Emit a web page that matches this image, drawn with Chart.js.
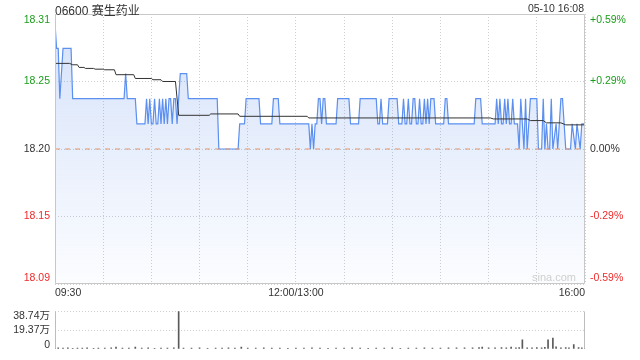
<!DOCTYPE html>
<html>
<head>
<meta charset="utf-8">
<script src="https://cdn.jsdelivr.net/npm/chart.js@4.4.1/dist/chart.umd.min.js"></script>
<style>
  html, body { margin: 0; padding: 0; background: #fff; }
  #wrap { position: relative; width: 640px; height: 360px; font-family: "Liberation Sans", "Noto Sans CJK SC", sans-serif; color: #333; }
  #main { position: absolute; left: 0; top: 0; }
  #vol { position: absolute; left: 0; top: 300px; }
  .txt { position: absolute; white-space: nowrap; }
</style>
</head>
<body>
<div id="wrap">
  <canvas id="main" width="640" height="300"></canvas>
  <canvas id="vol" width="640" height="60"></canvas>
  <div class="txt" style="left:55px; top:1px; font-size:12px;">06600 赛生药业</div>
  <div class="txt" style="right:56px; top:2px; font-size:10.5px;">05-10 16:08</div>
  <div class="txt" style="left:532px; top:271px; font-size:11px; color:#cfcfcf;">sina.com</div>
</div>
<script>
// reference price and axis labels
const prevClose = 18.20;
const pctRange = 0.0059;
const priceLabels = ['18.09', '18.15', '18.20', '18.25', '18.31'];
const pctLabels = ['-0.59%', '-0.29%', '0.00%', '+0.29%', '+0.59%'];
const timeTickMin = [0, 150, 330];
const timeTickLabels = ['09:30', '12:00/13:00', '16:00'];

// price line (minute index from 09:30, price)
const priceMin = [
  0, 1, 2, 3, 5, 10, 11, 43, 44, 45,
  50, 51, 56, 57, 58, 59, 60, 61, 62, 63,
  64, 65, 66, 67, 68, 69, 70, 71, 72, 73,
  74, 75, 76, 78, 82, 83, 101, 102, 114, 115,
  118, 119, 127, 128, 135, 136, 139, 140, 158, 159,
  160, 161, 162, 163, 164, 165, 166, 167, 168, 169,
  175, 176, 183, 184, 189, 190, 200, 201, 202, 203,
  204, 207, 208, 213, 214, 216, 217, 218, 219, 220,
  221, 222, 223, 224, 225, 226, 227, 228, 229, 230,
  231, 232, 233, 234, 236, 237, 242, 243, 244, 245,
  261, 262, 265, 266, 274, 275, 276, 277, 278, 279,
  280, 281, 282, 283, 284, 285, 286, 288, 289, 290,
  292, 293, 294, 296, 300, 301, 303, 304, 305, 306,
  307, 308, 309, 310, 312, 313, 315, 316, 318, 321,
  322, 324, 325, 327, 328, 330
];
const priceVal = [
  18.30, 18.28, 18.28, 18.24, 18.28, 18.28, 18.24, 18.24, 18.26, 18.24,
  18.24, 18.22, 18.22, 18.24, 18.22, 18.24, 18.22, 18.22, 18.24, 18.22,
  18.22, 18.24, 18.22, 18.24, 18.22, 18.24, 18.22, 18.24, 18.24, 18.22,
  18.24, 18.24, 18.22, 18.26, 18.26, 18.24, 18.24, 18.20, 18.20, 18.22,
  18.22, 18.24, 18.24, 18.22, 18.22, 18.24, 18.24, 18.22, 18.22, 18.20,
  18.22, 18.20, 18.22, 18.22, 18.24, 18.24, 18.22, 18.24, 18.24, 18.22,
  18.22, 18.24, 18.24, 18.22, 18.22, 18.24, 18.24, 18.22, 18.22, 18.24,
  18.22, 18.22, 18.24, 18.24, 18.22, 18.22, 18.24, 18.22, 18.22, 18.24,
  18.22, 18.22, 18.24, 18.24, 18.22, 18.22, 18.24, 18.22, 18.22, 18.24,
  18.22, 18.24, 18.22, 18.24, 18.24, 18.22, 18.22, 18.24, 18.24, 18.22,
  18.22, 18.24, 18.24, 18.22, 18.22, 18.24, 18.22, 18.24, 18.22, 18.22,
  18.24, 18.22, 18.24, 18.22, 18.22, 18.24, 18.22, 18.22, 18.20, 18.24,
  18.20, 18.24, 18.20, 18.24, 18.24, 18.20, 18.20, 18.24, 18.20, 18.22,
  18.20, 18.20, 18.24, 18.20, 18.22, 18.20, 18.24, 18.24, 18.20, 18.20,
  18.22, 18.20, 18.22, 18.20, 18.22, 18.22
];

// average price line
const avgMin = [
  0, 9, 11, 14, 15, 18, 19, 24, 25, 30,
  31, 37, 38, 49, 50, 60, 61, 66, 67, 75,
  77, 96, 97, 114, 115, 157, 158, 271, 273, 294,
  296, 304, 306, 315, 318, 330
];
const avgVal = [
  18.2681, 18.2681, 18.2670, 18.2670, 18.2649, 18.2649, 18.2641, 18.2641, 18.2635, 18.2635,
  18.2630, 18.2630, 18.2591, 18.2591, 18.2561, 18.2561, 18.2551, 18.2551, 18.2537, 18.2537,
  18.2268, 18.2268, 18.2279, 18.2279, 18.2260, 18.2260, 18.2247, 18.2247, 18.2239, 18.2239,
  18.2226, 18.2226, 18.2208, 18.2208, 18.2192, 18.2192
];

// volume (万 shares)
const volMax = 38.74;
const volLabels = ['0', '19.37万', '38.74万'];
const volMin = [
  0, 2, 5, 8, 11, 14, 17, 20, 24, 27,
  31, 35, 38, 42, 46, 50, 54, 58, 62, 66,
  70, 74, 77, 80, 85, 90, 95, 100, 104, 108,
  112, 116, 120, 125, 130, 135, 140, 145, 150, 155,
  160, 165, 170, 175, 180, 185, 190, 195, 200, 205,
  210, 215, 220, 225, 230, 235, 240, 245, 250, 255,
  260, 264, 266, 270, 274, 278, 281, 284, 287, 289,
  291, 294, 297, 300, 303, 305, 307, 310, 312, 315,
  318, 320, 323, 326, 328, 330
];
const volVal = [
  10.5, 0.8, 0.6, 0.9, 0.5, 0.7, 0.6, 0.8, 0.5, 0.7,
  0.6, 0.9, 1.6, 0.6, 0.7, 1.6, 0.6, 0.8, 0.5, 0.7,
  0.6, 0.8, 38.74, 0.7, 0.6, 0.8, 0.5, 0.7, 0.6, 0.8,
  0.6, 1.8, 0.7, 0.6, 0.8, 0.6, 0.7, 0.5, 0.6, 0.7,
  0.8, 0.6, 0.5, 0.7, 0.6, 0.8, 0.6, 0.5, 0.7, 0.6,
  0.8, 0.5, 0.7, 0.6, 0.8, 0.6, 0.7, 0.9, 0.8, 1.0,
  0.9, 1.2, 1.6, 1.0, 0.9, 1.1, 0.9, 1.6, 1.0, 1.2,
  9.1, 1.0, 0.9, 1.2, 1.0, 1.3, 9.1, 11.0, 2.0, 1.0,
  1.2, 0.9, 4.3, 1.1, 0.9, 24.0
];

const GREEN = '#1a9e1a';
const RED = '#f02a2a';
const GRID = '#cfcfcf';

Chart.defaults.font.family = '"Liberation Sans", "Noto Sans CJK SC", sans-serif';
Chart.defaults.font.size = 10.5;
Chart.defaults.color = '#333';

// box around the plot area
const framePlugin = {
  id: 'frame',
  afterDatasetsDraw(chart, args, opts) {
    const { ctx, chartArea: a } = chart;
    const l = Math.round(a.left) + 0.5, r = Math.round(a.right) - 0.5;
    const t = Math.round(a.top) + 0.5, b = Math.round(a.bottom) - 0.5;
    const sides = opts.sides || [];
    ctx.save();
    ctx.strokeStyle = opts.color || '#c8c8c8';
    ctx.lineWidth = 1;
    ctx.beginPath();
    if (sides.includes('top')) { ctx.moveTo(l, t); ctx.lineTo(r, t); }
    if (sides.includes('bottom')) { ctx.moveTo(l, b); ctx.lineTo(r, b); }
    if (sides.includes('left')) { ctx.moveTo(l, t); ctx.lineTo(l, b); }
    if (sides.includes('right')) { ctx.moveTo(r, t); ctx.lineTo(r, b); }
    ctx.stroke();
    ctx.restore();
  }
};

// label ticks; the outermost ones are pulled inside the plot
function edgeTicks(scale, n, botEdge, topEdge) {
  const lo = scale.min, hi = scale.max, r = hi - lo;
  const out = [];
  for (let i = 0; i < n; i++) {
    let v = lo + r * i / (n - 1);
    if (i === 0) v += r * botEdge;
    if (i === n - 1) v -= r * topEdge;
    out.push({ value: v });
  }
  scale.ticks = out;
}

function signColor(ctx) {
  if (ctx.index < 2) return RED;
  if (ctx.index > 2) return GREEN;
  return '#333';
}

const yMin = prevClose * (1 - pctRange);
const yMax = prevClose * (1 + pctRange);

const priceFill = (ctx) => {
  const { chart } = ctx;
  const a = chart.chartArea;
  if (!a) return 'rgba(0,0,0,0)';
  const g = chart.ctx.createLinearGradient(0, a.top, 0, a.bottom);
  g.addColorStop(0, 'rgba(90,140,235,0.26)');
  g.addColorStop(1, 'rgba(90,140,235,0.02)');
  return g;
};

new Chart(document.getElementById('main'), {
  type: 'line',
  data: {
    datasets: [
      {
        data: avgMin.map((m, i) => ({ x: m, y: avgVal[i] })),
        borderColor: '#333',
        borderWidth: 1,
        pointRadius: 0,
        fill: false,
        order: 0
      },
      {
        data: priceMin.map((m, i) => ({ x: m, y: priceVal[i] })),
        borderColor: '#5b8ff0',
        borderWidth: 1.2,
        pointRadius: 0,
        fill: 'start',
        backgroundColor: priceFill,
        order: 2
      },
      {
        data: [{ x: 0, y: prevClose }, { x: 330, y: prevClose }],
        borderColor: '#e8956a',
        borderWidth: 1,
        borderDash: [5, 5],
        pointRadius: 0,
        fill: false,
        order: 1
      }
    ]
  },
  options: {
    responsive: false,
    animation: false,
    layout: { padding: { top: 14 }, autoPadding: false },
    plugins: {
      legend: { display: false },
      tooltip: { enabled: false },
      frame: { color: '#c8c8c8', sides: ['top', 'right', 'bottom', 'left'] }
    },
    scales: {
      x: {
        type: 'linear',
        min: 0,
        max: 330,
        ticks: {
          stepSize: 30,
          autoSkip: false,
          maxRotation: 0,
          align: 'inner',
          padding: 3,
          callback: (v) => {
            const k = timeTickMin.indexOf(v);
            return k < 0 ? '' : timeTickLabels[k];
          }
        },
        grid: { color: GRID, drawTicks: false },
        border: { display: false, dash: [1, 2] },
        afterFit: (s) => { s.height = 16; }
      },
      y: {
        position: 'left',
        min: yMin,
        max: yMax,
        afterBuildTicks: (s) => edgeTicks(s, 5, 0.022, 0.021),
        ticks: { padding: 5, color: signColor, callback: (v, i) => priceLabels[i] },
        grid: { display: false, drawTicks: false },
        border: { display: false },
        afterFit: (s) => { s.width = 55; }
      },
      g: {
        position: 'left',
        min: yMin,
        max: yMax,
        afterBuildTicks: (s) => {
          s.ticks = [0, 1, 2, 3, 4].map(i => ({ value: yMin + (yMax - yMin) * i / 4 }));
        },
        ticks: { display: false },
        grid: { color: GRID, drawTicks: false },
        border: { display: false, dash: [1, 2] },
        afterFit: (s) => { s.width = 0; }
      },
      y2: {
        position: 'right',
        min: yMin,
        max: yMax,
        afterBuildTicks: (s) => edgeTicks(s, 5, 0.022, 0.021),
        ticks: { padding: 5, color: signColor, callback: (v, i) => pctLabels[i] },
        grid: { display: false, drawTicks: false },
        border: { display: false },
        afterFit: (s) => { s.width = 55; }
      }
    }
  },
  plugins: [framePlugin]
});

new Chart(document.getElementById('vol'), {
  type: 'bar',
  data: {
    datasets: [{
      data: volMin.map((m, i) => ({ x: m, y: volVal[i] })),
      backgroundColor: '#5a5a5a',
      barThickness: 1
    }]
  },
  options: {
    responsive: false,
    animation: false,
    layout: { padding: { top: 5, bottom: 7, right: 55 }, autoPadding: false },
    plugins: {
      legend: { display: false },
      tooltip: { enabled: false },
      frame: { color: '#bdbdbd', sides: ['left', 'right'] }
    },
    scales: {
      x: { type: 'linear', min: 0, max: 330, offset: false, display: false },
      y: {
        position: 'left',
        min: 0,
        max: volMax,
        afterBuildTicks: (s) => edgeTicks(s, 3, 0.083, 0.125),
        ticks: { padding: 5, callback: (v, i) => volLabels[i] },
        grid: { display: false, drawTicks: false },
        border: { display: false },
        afterFit: (s) => { s.width = 55; }
      },
      g: {
        position: 'left',
        min: 0,
        max: volMax,
        afterBuildTicks: (s) => {
          s.ticks = [volMax / 2, volMax].map(v => ({ value: v }));
        },
        ticks: { display: false },
        grid: { color: GRID, drawTicks: false },
        border: { display: false, dash: [1, 2] },
        afterFit: (s) => { s.width = 0; }
      }
    }
  },
  plugins: [framePlugin]
});
</script>
</body>
</html>
